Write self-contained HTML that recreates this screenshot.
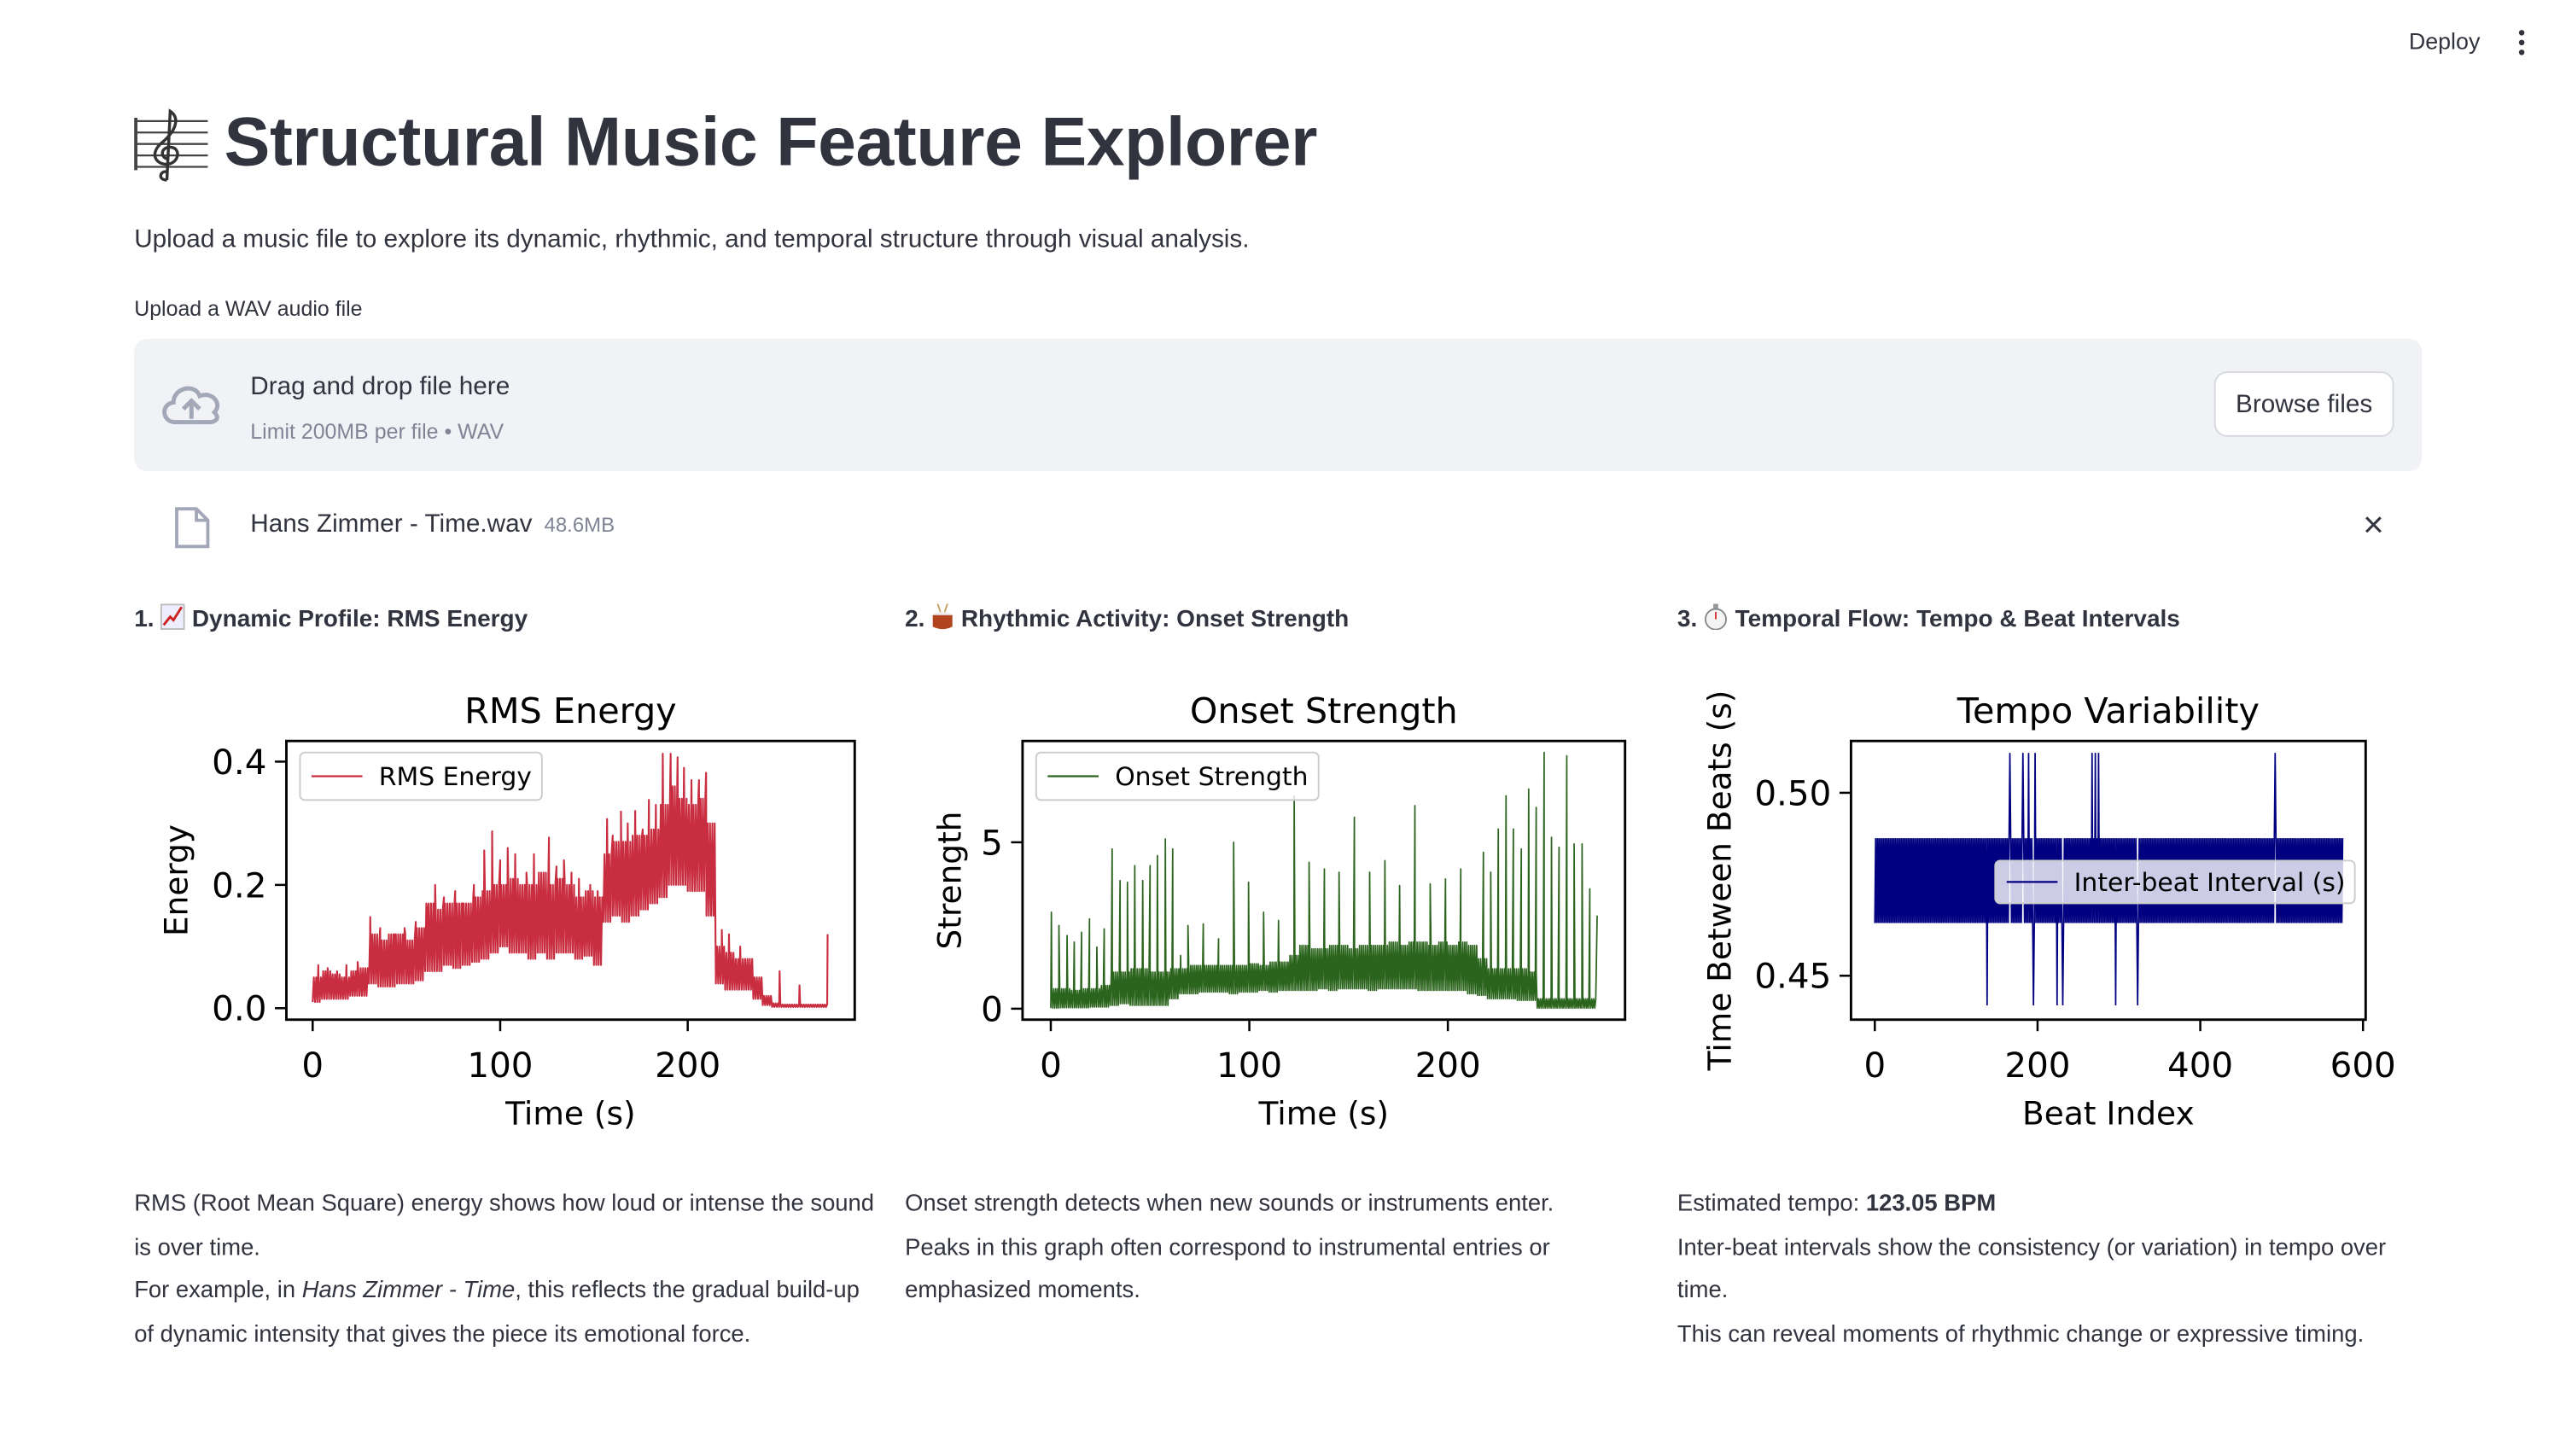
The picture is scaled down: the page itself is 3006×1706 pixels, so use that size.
<!DOCTYPE html>
<html><head><meta charset="utf-8">
<style>
html,body{margin:0;padding:0;background:#fff;overflow:hidden;}
#root{position:absolute;left:0;top:0;width:1570px;height:890px;transform:scale(1.917);transform-origin:0 0;font-family:"Liberation Sans",sans-serif;color:#31333f;}
.abs{position:absolute;white-space:nowrap;}
.p{font-size:14.3px;line-height:26.7px;}
h3{margin:0;font-size:14.6px;font-weight:bold;}
</style></head>
<body>
<div id="root">
  <div class="abs" style="left:1472px;top:17px;font-size:14px;">Deploy</div>
  <svg class="abs" style="left:1536px;top:17px" width="10" height="18"><circle cx="5" cy="3" r="1.7" fill="#31333f"/><circle cx="5" cy="9" r="1.7" fill="#31333f"/><circle cx="5" cy="15" r="1.7" fill="#31333f"/></svg>

  <svg class="abs" style="left:80px;top:64px" width="50" height="48">
    <g stroke="#444" stroke-width="1.2"><line x1="3" y1="10" x2="47" y2="10"/><line x1="3" y1="17" x2="47" y2="17"/><line x1="3" y1="24" x2="47" y2="24"/><line x1="3" y1="31" x2="47" y2="31"/><line x1="3" y1="38" x2="47" y2="38"/><line x1="3" y1="8" x2="3" y2="40" stroke-width="2"/></g>
    <path d="M22 46 C16 46 18 40 22 41 M22 46 L24 4 C30 8 28 16 18 24 C10 32 18 38 24 36 C30 34 30 26 24 26 C18 26 18 32 22 33" fill="none" stroke="#333" stroke-width="1.8"/>
  </svg>
  <div class="abs" style="left:137px;top:63px;font-size:42px;font-weight:bold;letter-spacing:-0.2px;">Structural Music Feature Explorer</div>
  <div class="abs" style="left:82px;top:138px;font-size:15.5px;">Upload a music file to explore its dynamic, rhythmic, and temporal structure through visual analysis.</div>
  <div class="abs" style="left:82px;top:181px;font-size:13px;">Upload a WAV audio file</div>

  <div class="abs" style="left:82px;top:207px;width:1398px;height:81px;background:#f0f2f6;border-radius:8px;">
    <svg class="abs" style="left:15px;top:25px" width="40" height="30"><path d="M10 26 C2 26 1 15 9 14 C9 5 22 2 25 10 C33 7 39 15 34 20 C38 24 34 26 31 26 Z" fill="none" stroke="#a3a8b8" stroke-width="2.6"/><path d="M20 24 V14 M15 18 L20 13 L25 18" fill="none" stroke="#a3a8b8" stroke-width="2.6"/></svg>
    <div class="abs" style="left:71px;top:21px;font-size:15.5px;">Drag and drop file here</div>
    <div class="abs" style="left:71px;top:49px;font-size:13px;color:#808495;">Limit 200MB per file • WAV</div>
    <div class="abs" style="left:1271px;top:20px;width:108px;height:38px;background:#fff;border:1px solid #d6d9df;border-radius:8px;font-size:15.5px;line-height:40px;text-align:center;">Browse files</div>
  </div>

  <svg class="abs" style="left:106px;top:309px" width="24" height="27"><path d="M2 2 H14 L21 9 V25 H2 Z M14 2 V9 H21" fill="none" stroke="#a3a8b8" stroke-width="2"/></svg>
  <div class="abs" style="left:153px;top:312px;font-size:15.5px;">Hans Zimmer - Time.wav <span style="font-size:12.5px;color:#808495;margin-left:3px">48.6MB</span></div>
  <div class="abs" style="left:1444px;top:308px;font-size:22px;">×</div>

  <h3 class="abs" style="left:82px;top:369px;">1. <svg width="15" height="16" style="vertical-align:-2px"><rect x="0.5" y="0.5" width="14" height="15" fill="#eef" stroke="#bbb"/><path d="M2 13 L6 8 L8 10 L13 2" stroke="#c22" stroke-width="1.5" fill="none"/></svg> Dynamic Profile: RMS Energy</h3>
  <h3 class="abs" style="left:553px;top:369px;">2. <svg width="14" height="16" style="vertical-align:-2px"><line x1="4" y1="0" x2="6" y2="6" stroke="#c9a064"/><line x1="10" y1="0" x2="8" y2="6" stroke="#c9a064"/><ellipse cx="7" cy="7" rx="6" ry="2" fill="#eee"/><path d="M1 7 V14 Q7 17 13 14 V7 Z" fill="#b0441f"/></svg> Rhythmic Activity: Onset Strength</h3>
  <h3 class="abs" style="left:1025px;top:369px;">3. <svg width="15" height="16" style="vertical-align:-2px"><rect x="6" y="0" width="3" height="3" fill="#999"/><circle cx="7.5" cy="9.5" r="6.3" fill="#f4f4f4" stroke="#888"/><line x1="7.5" y1="9.5" x2="7.5" y2="5" stroke="#d33"/></svg> Temporal Flow: Tempo &amp; Beat Intervals</h3>

  <svg id="charts" class="abs" style="left:0;top:0;transform:translate(0,1px) scale(1.0035,1.002);transform-origin:0 0" width="1560" height="884" font-family="DejaVu Sans, sans-serif"></svg>

  <div class="abs p" style="left:82px;top:723px;">RMS (Root Mean Square) energy shows how loud or intense the sound<br>is over time.<br>For example, in <i>Hans Zimmer - Time</i>, this reflects the gradual build-up<br>of dynamic intensity that gives the piece its emotional force.</div>
  <div class="abs p" style="left:553px;top:723px;">Onset strength detects when new sounds or instruments enter.<br>Peaks in this graph often correspond to instrumental entries or<br>emphasized moments.</div>
  <div class="abs p" style="left:1025px;top:723px;">Estimated tempo: <b>123.05 BPM</b><br>Inter-beat intervals show the consistency (or variation) in tempo over<br>time.<br>This can reveal moments of rhythmic change or expressive timing.</div>
</div>
<script>
// ---------- data ----------
const rmsBinStart = [0,5,10,15,20,25,30,35,40,45,50,55,60,65,70,75,80,85,90,95,100,105,110,115,120,125,130,135,140,145,150,155,160,165,170,175,180,185,190,195,200,205,210,215,220,225,230,235,240,245,250,255,260,265,270];
const rmsLow  = [0.01,0.015,0.015,0.015,0.02,0.02,0.04,0.035,0.035,0.04,0.04,0.045,0.06,0.06,0.07,0.065,0.07,0.075,0.08,0.09,0.1,0.09,0.09,0.08,0.09,0.08,0.09,0.09,0.08,0.085,0.07,0.14,0.15,0.14,0.15,0.16,0.17,0.18,0.2,0.2,0.19,0.19,0.15,0.04,0.03,0.03,0.03,0.015,0.005,0.002,0.002,0.002,0.002,0.002,0.002];
const rmsHigh = [0.05,0.06,0.055,0.05,0.06,0.065,0.12,0.11,0.12,0.12,0.11,0.13,0.17,0.16,0.17,0.17,0.17,0.18,0.19,0.2,0.2,0.21,0.2,0.2,0.22,0.2,0.21,0.2,0.18,0.19,0.18,0.25,0.27,0.27,0.28,0.28,0.29,0.33,0.36,0.34,0.33,0.34,0.3,0.1,0.09,0.08,0.08,0.05,0.02,0.008,0.006,0.006,0.006,0.006,0.006];
const rmsSpikeTimes  = [3,8,13,18,24,30.7,36,44,49,55,61,65.3,70,76,80,86,91.5,95.7,100,104,108,114,118,126,130,134,138,142,148,152,157,160,164.4,168,172,176,179.3,183,186.7,190.9,194.6,198,202,206,209.8,218.2,222,228,249,259.6,274.6];
const rmsSpikeValues = [0.07,0.065,0.06,0.07,0.075,0.148,0.13,0.12,0.13,0.14,0.16,0.2,0.18,0.19,0.17,0.2,0.256,0.287,0.24,0.26,0.25,0.22,0.25,0.277,0.23,0.24,0.22,0.21,0.2,0.19,0.307,0.28,0.319,0.3,0.32,0.29,0.338,0.33,0.413,0.413,0.407,0.39,0.37,0.37,0.382,0.127,0.12,0.1,0.06,0.037,0.12];
const rmsXTicks = [0,100,200];
const rmsYTicks = [0.0,0.2,0.4];
const rmsYTickLabels = ["0.0","0.2","0.4"];

const onsetBinStart = [0,5,10,15,20,25,30,35,40,45,50,55,60,65,70,75,80,85,90,95,100,105,110,115,120,125,130,135,140,145,150,155,160,165,170,175,180,185,190,195,200,205,210,215,220,225,230,235,240,245,250,255,260,265,270];
const onsetLow  = [0.02,0.03,0.03,0.03,0.05,0.05,0.1,0.15,0.1,0.1,0.1,0.1,0.3,0.45,0.45,0.5,0.5,0.5,0.45,0.5,0.5,0.55,0.5,0.55,0.55,0.55,0.55,0.6,0.55,0.6,0.6,0.6,0.55,0.6,0.6,0.6,0.6,0.55,0.55,0.55,0.55,0.55,0.45,0.4,0.3,0.3,0.3,0.25,0.25,0.02,0.02,0.02,0.02,0.02,0.02];
const onsetHigh = [0.6,0.6,0.55,0.6,0.6,0.7,1.1,1.1,1.2,1.2,1.1,1.1,1.2,1.2,1.3,1.3,1.3,1.3,1.3,1.3,1.35,1.3,1.4,1.4,1.6,1.9,1.8,1.8,1.9,1.9,1.8,1.9,1.9,1.9,2.0,1.9,2.0,2.0,1.9,2.0,1.9,2.0,1.9,1.5,1.2,1.2,1.2,1.2,1.1,0.3,0.3,0.3,0.3,0.3,0.3];
const onsetSpikeTimes  = [0.3,4.1,8.2,11.8,15.5,19.5,23.2,26.9,30.9,34.9,38.6,42.3,46.3,50,53.7,57.7,61.4,65.4,69.1,76.8,84.5,92.1,99.6,107.2,114.7,122.6,130.1,137.8,145.2,152.9,160.6,168.3,175.7,183.4,191.1,198.8,206.5,217.9,221.6,225.4,229.3,233,237,240.7,244.5,248.5,252.2,256,259.9,263.6,267.6,271.5,275.2];
const onsetSpikeValues = [2.9,2.5,2.2,2.0,2.3,2.7,1.85,2.4,4.8,3.85,3.8,4.3,3.85,4.3,4.6,5.1,4.8,1.6,2.5,2.55,2.1,5.0,3.8,2.9,2.65,6.4,4.4,4.2,4.1,5.75,4.1,4.45,3.7,6.1,3.75,3.9,4.2,4.7,4.1,5.4,6.4,5.4,4.8,6.6,6.05,7.7,5.15,4.85,7.6,4.95,4.95,3.6,2.8];
const onsetXTicks = [0,100,200];
const onsetYTicks = [0,5];

const beatCount = 576;
const ibiLow = 0.4644;
const ibiHigh = 0.4876;
const ibiSpikeBeats  = [138,166,182,189,195,197,224,231,267,271,275,296,323,492];
const ibiSpikeValues = [0.4419,0.5109,0.5109,0.5109,0.4419,0.5109,0.4419,0.4419,0.5109,0.5109,0.5109,0.4419,0.4419,0.5109];
const tempoXTicks = [0,200,400,600];
const tempoYTicks = [0.45,0.50];
const tempoYTickLabels = ["0.45","0.50"];

// ---------- rendering ----------
const NS = "http://www.w3.org/2000/svg";
const svg = document.getElementById('charts');
function mk(tag, attrs, parent, text){
  const e = document.createElementNS(NS, tag);
  for (const k in attrs) e.setAttribute(k, attrs[k]);
  if (text !== undefined) e.textContent = text;
  (parent||svg).appendChild(e);
  return e;
}
function bandPoints(binStart, low, high, binW, perBin, spikeT, spikeV, endT){
  let pts = [];
  for (let i=0;i<binStart.length;i++){
    for (let j=0;j<perBin;j++){
      const t = binStart[i] + binW*j/perBin;
      if (t > endT) break;
      pts.push([t, (j%2===0)?low[i]:high[i]]);
    }
  }
  for (let s=0;s<spikeT.length;s++){
    let idx = pts.findIndex(p=>p[0]>=spikeT[s]);
    if (idx<0) idx = pts.length;
    pts.splice(idx,0,[spikeT[s],spikeV[s]]);
  }
  return pts;
}
function axesFrame(g, box){
  mk('rect',{x:box.l,y:box.t,width:box.r-box.l,height:box.b-box.t,fill:'none',stroke:'#000','stroke-width':1.5},g);
}
function xTicksDraw(g, ticks, xf, box, labels){
  ticks.forEach((v,i)=>{
    const x = xf(v);
    const tk = mk('line',{x1:x,x2:x,y1:box.b,y2:box.b+7},g);
    tk.setAttribute('stroke','#000'); tk.setAttribute('stroke-width','1.3');
     
    const tl = mk('text',{x:x,y:box.b+35,'text-anchor':'middle','font-size':21},g,labels?labels[i]:String(v));
     
  });
}
function yTicksDraw(g, ticks, yf, box, labels){
  ticks.forEach((v,i)=>{
    const y = yf(v);
    const tk = mk('line',{x1:box.l-7,x2:box.l,y1:y,y2:y,stroke:'#000','stroke-width':1.3},g);
     
    const tl = mk('text',{x:box.l-12,y:y+7.5,'text-anchor':'end','font-size':21},g,labels?labels[i]:String(v));
     
  });
}
function legend(g, x, y, w, h, color, label, fillOpacity){
  mk('rect',{x:x,y:y,width:w,height:h,rx:3,fill:'#fff','fill-opacity':fillOpacity,stroke:'#ccc','stroke-width':1},g);
  mk('line',{x1:x+7,x2:x+38,y1:y+h/2,y2:y+h/2,stroke:color,'stroke-width':1.2},g);
  mk('text',{x:x+48,y:y+h/2+5.5,'font-size':15.5},g,label);
}
function chartLabels(g, box, title, xl, yl, ylx){
  const cx = (box.l+box.r)/2;
  const t = mk('text',{x:cx,y:440,'text-anchor':'middle','font-size':21.5},g,title);
   
  const a = mk('text',{x:cx,y:685,'text-anchor':'middle','font-size':19.5},g,xl);
   
  const cy = (box.t+box.b)/2;
  const b = mk('text',{x:ylx,y:cy,'text-anchor':'middle','font-size':19.5,transform:`rotate(-90 ${ylx} ${cy})`},g,yl);
   
}

// RMS chart
(function(){
  const box = {l:174.4,r:520.5,t:451,b:621};
  const xf = t=>190.4 + t*1.142;
  const yf = v=>614 - v*376;
  const g = mk('g',{});
   
  const pts = bandPoints(rmsBinStart,rmsLow,rmsHigh,5,8,rmsSpikeTimes,rmsSpikeValues,275.9);
  const line = mk('polyline',{points:pts.map(p=>xf(p[0]).toFixed(2)+','+yf(p[1]).toFixed(2)).join(' '),fill:'none',stroke:'#c92d40','stroke-width':1.1,'stroke-linejoin':'round'},g);
   
  axesFrame(g,box);
  xTicksDraw(g,rmsXTicks,xf,box);
  yTicksDraw(g,rmsYTicks,yf,box,rmsYTickLabels);
  const lg = mk('g',{},g);  
  legend(lg,182.7,458,147.3,29,'#c92d40','RMS Energy',0.8);
  chartLabels(g,box,'RMS Energy','Time (s)','Energy',114);
})();

// Onset chart
(function(){
  const box = {l:622.7,r:989.6,t:451,b:621};
  const xf = t=>639.9 + t*1.209;
  const yf = v=>614.3 - v*20.3;
  const g = mk('g',{});
   
  const pts = bandPoints(onsetBinStart,onsetLow,onsetHigh,5,10,onsetSpikeTimes,onsetSpikeValues,276.5);
  const line = mk('polyline',{points:pts.map(p=>xf(p[0]).toFixed(2)+','+yf(p[1]).toFixed(2)).join(' '),fill:'none',stroke:'#2b641c','stroke-width':0.9,'stroke-linejoin':'round'},g);
   
  axesFrame(g,box);
  xTicksDraw(g,onsetXTicks,xf,box);
  yTicksDraw(g,onsetYTicks,yf,box);
  const lg = mk('g',{},g);  
  legend(lg,631,458,172,29,'#2b641c','Onset Strength',0.8);
  chartLabels(g,box,'Onset Strength','Time (s)','Strength',585);
})();

// Tempo chart
(function(){
  const box = {l:1127.2,r:1440.6,t:451,b:621};
  const xf = b=>1141.7 + b*0.4955;
  const yf = v=>482.6 - (v-0.5)*2232;
  const g = mk('g',{});
   
  const pts = [];
  for (let i=0;i<beatCount;i++){
    const si = ibiSpikeBeats.indexOf(i);
    pts.push([i, si>=0 ? ibiSpikeValues[si] : (i%2===0?ibiLow:ibiHigh)]);
  }
  const line = mk('polyline',{points:pts.map(p=>xf(p[0]).toFixed(2)+','+yf(p[1]).toFixed(2)).join(' '),fill:'none',stroke:'#000080','stroke-width':0.9},g);
   
  axesFrame(g,box);
  xTicksDraw(g,tempoXTicks,xf,box);
  yTicksDraw(g,tempoYTicks,yf,box,tempoYTickLabels);
  const lg = mk('g',{},g);  
  legend(lg,1215,524,219,26,'#000080','Inter-beat Interval (s)',0.8);
  chartLabels(g,box,'Tempo Variability','Beat Index','Time Between Beats (s)',1054);
})();
</script>
</body></html>
